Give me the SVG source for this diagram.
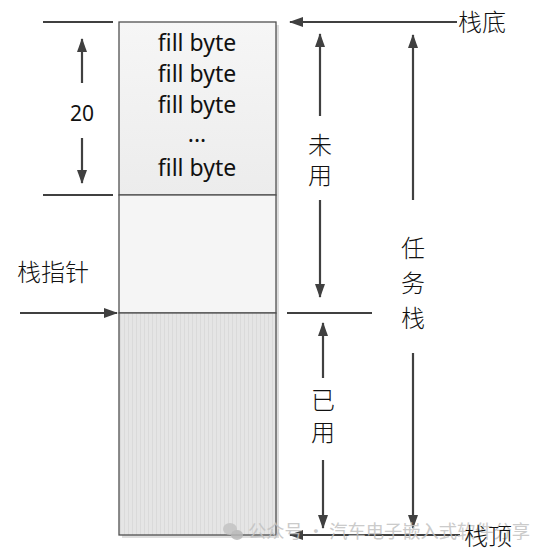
<svg xmlns="http://www.w3.org/2000/svg" width="554" height="560" viewBox="0 0 554 560">
<defs>
<marker id="ah" viewBox="0 0 14 10" refX="13" refY="5" markerWidth="14" markerHeight="10" markerUnits="userSpaceOnUse" orient="auto">
<path d="M0,0 L14,5 L0,10 Z" fill="#404040"/>
</marker>
<linearGradient id="g1" x1="0" y1="0" x2="0" y2="1">
<stop offset="0" stop-color="#f6f6f6"/>
<stop offset="1" stop-color="#ececec"/>
</linearGradient>
<pattern id="stripes" width="4" height="10" patternUnits="userSpaceOnUse">
<rect width="4" height="10" fill="#e5e5e5"/>
<rect width="1" height="10" fill="#dadada"/>
</pattern>
</defs>
<style>
.ln{stroke:#404040;stroke-width:2.2;fill:none}
.bx{stroke:#505050;stroke-width:1.3}
.en{font-family:"Noto Sans","Liberation Sans",sans-serif;font-size:23px;fill:#111;text-anchor:middle}
.zh{font-family:"Noto Sans CJK SC",sans-serif;font-size:24px;font-weight:300;fill:#111}
.wm{font-family:"Noto Sans CJK SC",sans-serif;font-size:18px;fill:#c2c2c2}
</style>
<rect width="554" height="560" fill="#fff"/>
<g id="stack">
<rect x="122" y="25" width="157" height="513" fill="#dedede"/>
<rect id="fill-area" class="bx" x="119" y="22" width="157" height="173" fill="url(#g1)"/>
<rect id="unused-area" class="bx" x="119" y="195" width="157" height="118" fill="#f5f5f5"/>
<rect id="used-area" class="bx" x="119" y="313" width="157" height="222" fill="url(#stripes)"/>
<text class="en" x="197" y="51">fill byte</text>
<text class="en" x="197" y="82">fill byte</text>
<text class="en" x="197" y="113">fill byte</text>
<text class="en" x="197" y="142">...</text>
<text class="en" x="197" y="176">fill byte</text>
</g>
<g id="connectors">
<line class="ln" x1="43" y1="22" x2="113" y2="22"/>
<line class="ln" x1="43" y1="195" x2="113" y2="195"/>
<line class="ln" x1="287" y1="313" x2="372" y2="313"/>
<line class="ln" x1="82" y1="83" x2="82" y2="39" marker-end="url(#ah)"/>
<line class="ln" x1="82" y1="138" x2="82" y2="183" marker-end="url(#ah)"/>
<line class="ln" x1="457" y1="22" x2="290" y2="22" marker-end="url(#ah)"/>
<line class="ln" x1="320" y1="116" x2="320" y2="34" marker-end="url(#ah)"/>
<line class="ln" x1="320" y1="200" x2="320" y2="297" marker-end="url(#ah)"/>
<line class="ln" x1="323" y1="378" x2="323" y2="323" marker-end="url(#ah)"/>
<line class="ln" x1="323" y1="460" x2="323" y2="528" marker-end="url(#ah)"/>
<line class="ln" x1="413" y1="200" x2="413" y2="35" marker-end="url(#ah)"/>
<line class="ln" x1="413" y1="353" x2="413" y2="528" marker-end="url(#ah)"/>
<line class="ln" x1="460" y1="535" x2="290" y2="535" marker-end="url(#ah)"/>
<line class="ln" x1="20" y1="313" x2="117" y2="313" marker-end="url(#ah)"/>
</g>
<g id="labels">
<text class="en" x="82" y="121" style="font-size:21px">20</text>
<text class="zh" x="458" y="31">栈底</text>
<text class="zh" x="17" y="281">栈指针</text>
<text class="zh" x="308" y="154">未</text>
<text class="zh" x="308" y="184">用</text>
<text class="zh" x="311" y="409">已</text>
<text class="zh" x="311" y="441">用</text>
<text class="zh" x="401" y="257">任</text>
<text class="zh" x="401" y="292">务</text>
<text class="zh" x="401" y="327">栈</text>
</g>
<g id="watermark" opacity="0.85">
<ellipse cx="230" cy="529" rx="7" ry="6" fill="#c4c4c4"/>
<ellipse cx="237" cy="535" rx="6" ry="5" fill="#b8b8b8"/>
<text class="wm" x="248" y="538" textLength="282" lengthAdjust="spacingAndGlyphs">公众号 · 汽车电子嵌入式软件分享</text>
</g>
<g id="top-label">
<text class="zh" x="464" y="545">栈顶</text>
</g>
</svg>
